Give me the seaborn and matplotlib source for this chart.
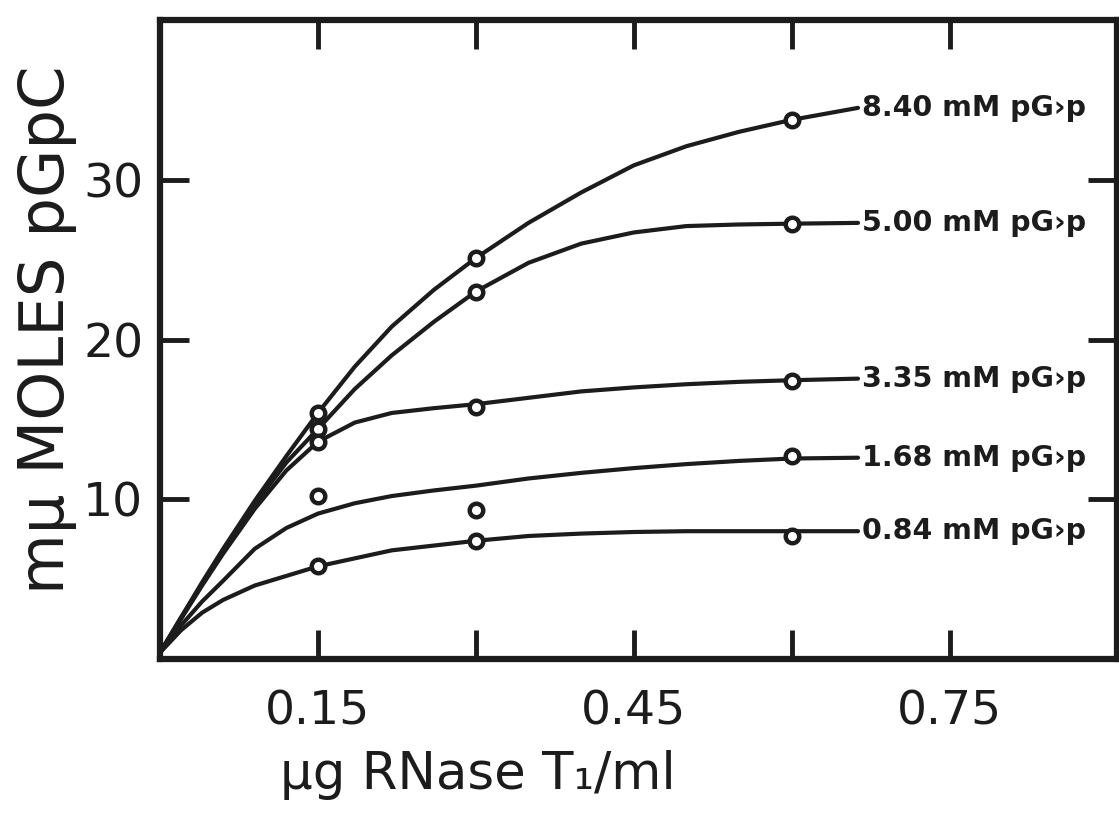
import matplotlib
matplotlib.use("Agg")
import matplotlib.pyplot as plt
import seaborn as sns
import pandas as pd

# ---------------- data ----------------
conc_labels = ["8.40 mM pG›p", "5.00 mM pG›p", "3.35 mM pG›p",
               "1.68 mM pG›p", "0.84 mM pG›p"]

# measured points (µg RNase T1 / ml  ->  mµ moles pGpC)
point_x = [0.15, 0.30, 0.60]
pts_840 = [15.4, 25.1, 33.75]
pts_500 = [14.4, 23.0, 27.25]
pts_335 = [13.6, 15.8, 17.4]
pts_168 = [10.2, 9.3, 12.7]
pts_084 = [5.8, 7.4, 7.7]

# hand-drawn fitted curves
curve_x = [0.0, 0.02, 0.04, 0.06, 0.09, 0.12, 0.15, 0.185, 0.22, 0.26,
           0.30, 0.35, 0.40, 0.45, 0.50, 0.55, 0.60, 0.663]
curve_840 = [0.4, 2.6, 4.8, 6.9, 9.9, 12.7, 15.4, 18.3, 20.8, 23.1,
             25.1, 27.3, 29.2, 30.9, 32.1, 33.0, 33.75, 34.5]
curve_500 = [0.4, 2.6, 4.7, 6.8, 9.7, 12.3, 14.4, 16.9, 19.0, 21.1,
             23.0, 24.8, 26.0, 26.7, 27.1, 27.2, 27.25, 27.3]
curve_335 = [0.4, 2.5, 4.6, 6.6, 9.4, 11.8, 13.6, 14.8, 15.4, 15.7,
             15.95, 16.35, 16.75, 17.0, 17.2, 17.35, 17.45, 17.55]
curve_168 = [0.4, 2.1, 3.6, 4.9, 6.9, 8.2, 9.1, 9.75, 10.2, 10.55,
             10.85, 11.3, 11.65, 11.95, 12.2, 12.4, 12.55, 12.6]
curve_084 = [0.4, 1.8, 2.9, 3.7, 4.6, 5.2, 5.8, 6.3, 6.8, 7.1,
             7.4, 7.7, 7.85, 7.95, 8.0, 8.0, 8.0, 8.0]

x_ticks = [0.15, 0.30, 0.45, 0.60, 0.75]
x_ticklabels = ["0.15", "", "0.45", "", "0.75"]
y_ticks = [10, 20, 30]
y_ticklabels = ["10", "20", "30"]

x_label = "μg RNase T₁/ml"
y_label = "mμ MOLES pGpC"

# ---------------- styling ----------------
sns.set_theme(style="ticks")
plt.rcParams["font.family"] = ["DejaVu Sans"]
ink = "#1c1c1c"

fig = plt.figure(figsize=(11.19, 8.15), dpi=100)
ax = fig.add_axes([160 / 1119, 1 - 659 / 815, (1117 - 160) / 1119, 639 / 815])

curves = [curve_840, curve_500, curve_335, curve_168, curve_084]
points = [pts_840, pts_500, pts_335, pts_168, pts_084]

for lab, cy, py in zip(conc_labels, curves, points):
    df_c = pd.DataFrame({"x": curve_x, "y": cy})
    sns.lineplot(data=df_c, x="x", y="y", ax=ax, color=ink, lw=3.0,
                 estimator=None, sort=False, zorder=2,
                 solid_joinstyle="round", solid_capstyle="round")
    df_p = pd.DataFrame({"x": point_x, "y": py})
    sns.scatterplot(data=df_p, x="x", y="y", ax=ax, s=95, marker="o",
                    facecolor="white", edgecolor=ink, linewidth=3.2, zorder=3)
    ax.text(curve_x[-1] + 0.004, cy[-1], lab, ha="left", va="center",
            fontsize=20.5, fontweight="bold", color=ink)

ax.set_xlim(0, 0.909)
ax.set_ylim(0, 40)
ax.set_xticks(x_ticks)
ax.set_xticklabels(x_ticklabels)
ax.set_yticks(y_ticks)
ax.set_yticklabels(y_ticklabels)

for sp in ax.spines.values():
    sp.set_visible(True)
    sp.set_linewidth(4.5)
    sp.set_color(ink)

ax.tick_params(axis="both", direction="in", length=21, width=3.5, color=ink,
               top=True, right=True, labelcolor=ink)
ax.tick_params(axis="x", labelsize=34, pad=22)
ax.tick_params(axis="y", labelsize=34, pad=12)

ax.set_xlabel(x_label, fontsize=37, color=ink)
ax.xaxis.set_label_coords(0.332, -0.143)
ax.set_ylabel(y_label, fontsize=45, color=ink)
ax.yaxis.set_label_coords(-0.087, 0.515)

fig.savefig("out.png", dpi=100, facecolor="white")
